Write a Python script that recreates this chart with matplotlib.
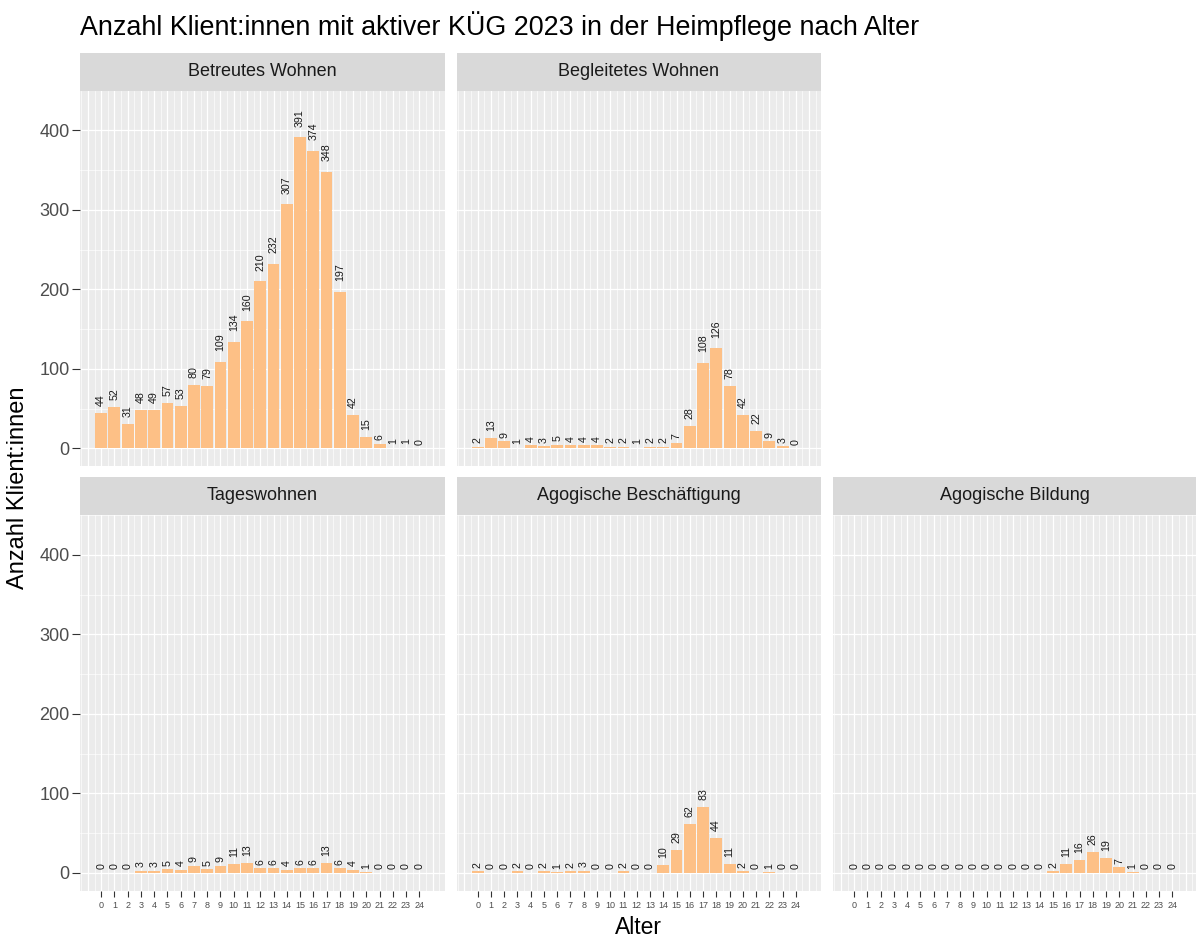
import numpy as np
import matplotlib.pyplot as plt

plt.rcParams['font.family'] = ['Liberation Sans', 'DejaVu Sans']

# data: count of clients per age, per care type
ages = list(range(25))
betreutes = [44, 52, 31, 48, 49, 57, 53, 80, 79, 109, 134, 160, 210, 232, 307,
             391, 374, 348, 197, 42, 15, 6, 1, 1, 0]
begleitetes = [2, 13, 9, 1, 4, 3, 5, 4, 4, 4, 2, 2, 1, 2, 2, 7, 28, 108, 126,
               78, 42, 22, 9, 3, 0]
tageswohnen = [0, 0, 0, 3, 3, 5, 4, 9, 5, 9, 11, 13, 6, 6, 4, 6, 6, 13, 6, 4,
               1, 0, 0, 0, 0]
beschaeftigung = [2, 0, 0, 2, 0, 2, 1, 2, 3, 0, 0, 2, 0, 0, 10, 29, 62, 83, 44,
                  11, 2, 0, 1, 0, 0]
bildung = [0] * 15 + [2, 11, 16, 26, 19, 7, 1, 0, 0, 0]

panels = [("Betreutes Wohnen", betreutes, 0, 0),
          ("Begleitetes Wohnen", begleitetes, 0, 1),
          ("Tageswohnen", tageswohnen, 1, 0),
          ("Agogische Beschäftigung", beschaeftigung, 1, 1),
          ("Agogische Bildung", bildung, 1, 2)]

W, H = 1196, 940
fig = plt.figure(figsize=(W / 100, H / 100), dpi=100)


def fr(x, y, w, h):
    # pixel box (top-left origin) -> figure fraction
    return [x / W, 1 - (y + h) / H, w / W, h / H]


col_left = [80, 456.5, 833]
strip_top = [52.5, 477]
pw, sh, ph = 364.5, 38, 375.5
bar_col = '#FDC086'

for name, vals, r, c in panels:
    x0 = col_left[c]
    sax = fig.add_axes(fr(x0, strip_top[r], pw, sh))
    sax.set_facecolor('#D9D9D9')
    sax.set_xticks([]); sax.set_yticks([])
    for s in sax.spines.values():
        s.set_visible(False)
    sax.text(0.5, 0.5, name, ha='center', va='center', fontsize=13,
             color='#1A1A1A', transform=sax.transAxes)

    ax = fig.add_axes(fr(x0, strip_top[r] + sh, pw, ph))
    ax.set_facecolor('#EBEBEB')
    for s in ax.spines.values():
        s.set_visible(False)
    # ggplot-like grid
    for v in np.arange(-1, 27):
        ax.axvline(v, color='white', lw=0.9, zorder=0)
        ax.axvline(v - 0.5, color='white', lw=0.45, zorder=0)
    for v in range(0, 500, 100):
        ax.axhline(v, color='white', lw=0.9, zorder=0)
        ax.axhline(v + 50, color='white', lw=0.45, zorder=0)

    ax.bar(ages, vals, width=0.9, color=bar_col, zorder=2)
    for a, v in zip(ages, vals):
        lab = str(v)
        ax.annotate(lab, (a, v), xytext=(0, 0.6 * len(lab) * 4.2),
                    textcoords='offset points', rotation=90, ha='center',
                    va='bottom', fontsize=7.7, color='#1A1A1A', zorder=3)

    ax.set_xlim(-1.6, 25.9)
    ax.set_ylim(-22, 450)

    if r == 1:
        ax.set_xticks(ages)
        ax.set_xticklabels([str(a) for a in ages])
        ax.tick_params(axis='x', length=4.5, width=0.8, color='#333333',
                       labelsize=6.5, labelcolor='#4D4D4D', pad=3)
    else:
        ax.set_xticks([])
    if c == 0:
        ax.set_yticks([0, 100, 200, 300, 400])
        ax.tick_params(axis='y', length=5.5, width=0.8, color='#333333',
                       labelsize=13, labelcolor='#4D4D4D', pad=2)
    else:
        ax.set_yticks([])

fig.text(80 / W, 1 - 35 / H, "Anzahl Klient:innen mit aktiver KÜG 2023 in der Heimpflege nach Alter",
         ha='left', va='baseline', fontsize=19.4, color='black')
fig.text(638 / W, 1 - 928 / H, "Alter", ha='center', va='center', fontsize=16.5)
fig.text(18 / W, 1 - 488 / H, "Anzahl Klient:innen", ha='center', va='center',
         rotation=90, fontsize=17)

fig.savefig('out.png', dpi=100)
